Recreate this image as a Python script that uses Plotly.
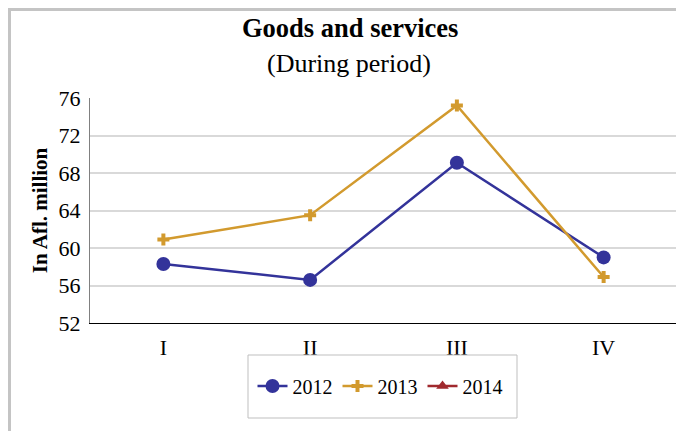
import plotly.graph_objects as go

quarters = ["I", "II", "III", "IV"]
y2012 = [58.3, 56.6, 69.1, 59.0]
y2013 = [60.9, 63.5, 75.2, 56.9]
y2014 = [None, None, None, None]
y_ticks = [52, 56, 60, 64, 68, 72, 76]

SERIF = "Liberation Serif, Times New Roman, serif"

fig = go.Figure()
fig.add_trace(go.Scatter(x=quarters, y=y2012, name="2012", mode="lines+markers",
                         line=dict(color="#33339A", width=2.5),
                         marker=dict(symbol="circle", size=14, color="#33339A")))
fig.add_trace(go.Scatter(x=quarters, y=y2013, name="2013", mode="lines+markers",
                         line=dict(color="#D29A2E", width=2.5),
                         marker=dict(symbol="cross", size=10, color="#D29A2E")))
fig.add_trace(go.Scatter(x=quarters, y=y2014, name="2014", mode="lines+markers",
                         line=dict(color="#A0292E", width=2.5),
                         marker=dict(symbol="triangle-up", size=11, color="#A0292E")))

# outer chart border (light gray), drawn just inside the figure edge
fig.add_shape(type="rect", xref="paper", yref="paper",
              x0=(9.5 - 90) / 587, x1=1.2, y0=-0.6, y1=(323 - 9.5) / 225,
              line=dict(color="#C4C4C4", width=3), layer="below")
# legend box
fig.add_shape(type="rect", xref="paper", yref="paper",
              x0=(248 - 90) / 587, x1=(517 - 90) / 587,
              y0=(323 - 418) / 225, y1=(323 - 355) / 225,
              line=dict(color="#BFBFBF", width=1))

# titles as annotations (paper is 423 high, page offset 8px)
fig.add_annotation(text="<b>Goods and services</b>", xref="paper", yref="paper",
                   x=(350 - 90) / 587, y=(323 - 28) / 225, xanchor="center", yanchor="middle",
                   showarrow=False, font=dict(family=SERIF, size=26.5))
fig.add_annotation(text="(During period)", xref="paper", yref="paper",
                   x=(349 - 90) / 587, y=(323 - 63) / 225, xanchor="center", yanchor="middle",
                   showarrow=False, font=dict(family=SERIF, size=26))

# page body adds an 8px offset, so the figure is 8px smaller
fig.update_layout(
    width=676, height=423,
    margin=dict(l=82, r=7, t=90, b=108),
    plot_bgcolor="white", paper_bgcolor="white",
    font=dict(family=SERIF, size=22, color="black"),
    xaxis=dict(range=[-0.5, 3.5], showline=True, linecolor="black", linewidth=1, showgrid=False,
               ticks="", tickfont=dict(family=SERIF, size=22), ticklabelstandoff=5),
    yaxis=dict(range=[52, 76], tickvals=y_ticks, showline=True, linecolor="#808080",
               linewidth=1, gridcolor="#D9D9D9", gridwidth=1.5, ticks="",
               tickfont=dict(family=SERIF, size=22), ticklabelstandoff=4,
               title=dict(text="<b>In Afl. million</b>", font=dict(family=SERIF, size=21),
                          standoff=5)),
    legend=dict(orientation="h", x=(380 - 90) / 587, xanchor="center",
                y=(323 - 386) / 225, yanchor="middle",
                font=dict(family=SERIF, size=20), bgcolor="rgba(0,0,0,0)", itemwidth=30),
    showlegend=True,
)

fig.write_html("out.html")
